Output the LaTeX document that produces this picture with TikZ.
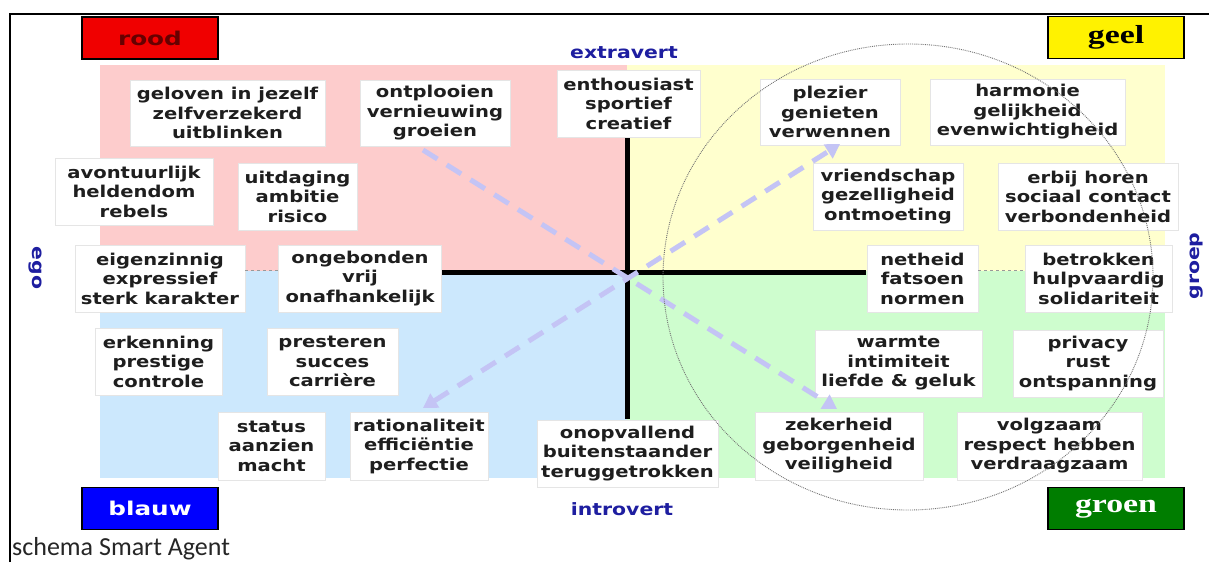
\documentclass[tikz,border=0pt]{standalone}
\usepackage{fontspec}
\usetikzlibrary{arrows.meta}
\newfontfamily\bxfont[FakeStretch=1.2]{DejaVu Sans}
\newfontfamily\lbfont[FakeStretch=1.3]{DejaVu Sans}
\newfontfamily\srfont[FakeStretch=1.3]{Liberation Serif}
\newfontfamily\captfont{Carlito}
\definecolor{qred}{RGB}{253,204,204}
\definecolor{qyel}{RGB}{255,255,206}
\definecolor{qblu}{RGB}{204,232,253}
\definecolor{qgrn}{RGB}{206,253,206}
\definecolor{lav}{RGB}{196,196,245}
\definecolor{axblue}{RGB}{30,30,160}
\definecolor{txt}{RGB}{30,30,30}
\definecolor{lred}{RGB}{240,0,0}
\definecolor{lgrn}{RGB}{0,125,0}
\tikzset{
  tb/.style={draw=black!10, fill=white, align=center, inner sep=0pt, text=txt,
    font=\bxfont\bfseries\fontsize{16.3}{19.5}\selectfont},
  lbl/.style={draw=black, line width=1.5pt, inner sep=0pt, minimum width=136pt, minimum height=42pt},
  axlbl/.style={text=axblue, font=\bxfont\bfseries\fontsize{17}{20}\selectfont, inner sep=0pt},
  dasharrow/.style={draw=lav, line width=5pt, dash pattern=on 17pt off 11pt,
    -{Triangle[length=14pt,width=16pt]}},
  axis/.style={line width=5pt, black},
  thin dash/.style={draw=black!40, dashed, line width=0.8pt}
}
\begin{document}
\begin{tikzpicture}[x=1pt,y=-1pt]
\useasboundingbox (0,0) rectangle (1209,562);
\clip (0,0) rectangle (1209,562);
\fill[white] (0,0) rectangle (1209,562);
% frame
\draw[line width=2pt] (10,562) -- (10,14) -- (1209,14);
% quadrants
\fill[qred] (100,65) rectangle (627,271);
\fill[qyel] (627,65) rectangle (1165,271);
\fill[qblu] (100,271) rectangle (627,478);
\fill[qgrn] (627,271) rectangle (1165,478);
% axes
\coordinate (vtop) at (627,138);
\coordinate (vbot) at (627,419);
\coordinate (hl) at (442,272);
\coordinate (hr) at (866,272);
\draw[axis] (vtop) -- (vbot);
\draw[axis] (hl) -- (hr);
% color labels
\node[lbl, fill=lred, text=black!60!red, font=\lbfont\bfseries\fontsize{19}{22}\selectfont] (rood) at (150,38) {rood};
\node[lbl, fill=yellow, text=black, font=\srfont\bfseries\fontsize{26}{28}\selectfont] (geel) at (1116,37.5) {geel};
\node[lbl, fill=blue, text=white, font=\lbfont\bfseries\fontsize{19}{22}\selectfont] (blauw) at (150,508.5) {blauw};
\node[lbl, fill=lgrn, text=white, font=\srfont\bfseries\fontsize{26}{28}\selectfont] (groen) at (1116,508.5) {groen};
% axis labels
\node[axlbl] (extra) at (624,53) {extravert};
\node[axlbl] (intro) at (622,509) {introvert};
\node[axlbl, rotate=-90] (ego) at (35,268) {ego};
\node[axlbl, rotate=90] (groep) at (1197,266) {groep};
% text boxes
\node[tb, minimum width=195pt, minimum height=66pt] (b1) at (227.5,113) {geloven in jezelf\\zelfverzekerd\\uitblinken};
\node[tb, minimum width=150pt, minimum height=66pt] (b2) at (435,113) {ontplooien\\vernieuwing\\groeien};
\node[tb, minimum width=143pt, minimum height=67pt] (b3) at (628.5,103.5) {enthousiast\\sportief\\creatief};
\node[tb, minimum width=140pt, minimum height=66pt] (b4) at (830,112) {plezier\\genieten\\verwennen};
\node[tb, minimum width=195pt, minimum height=66pt] (b5) at (1027.5,112) {harmonie\\gelijkheid\\evenwichtigheid};
\node[tb, minimum width=158pt, minimum height=67pt] (b6) at (134,191.5) {avontuurlijk\\heldendom\\rebels};
\node[tb, minimum width=119pt, minimum height=67pt] (b7) at (297.5,196.5) {uitdaging\\ambitie\\risico};
\node[tb, minimum width=150pt, minimum height=67pt] (b8) at (888,196.5) {vriendschap\\gezelligheid\\ontmoeting};
\node[tb, minimum width=180pt, minimum height=67pt] (b9) at (1088,196.5) {erbij horen\\sociaal contact\\verbondenheid};
\node[tb, minimum width=170pt, minimum height=67pt] (b10) at (160,278.5) {eigenzinnig\\expressief\\sterk karakter};
\node[tb, minimum width=163pt, minimum height=67pt] (b11) at (360,278.5) {ongebonden\\vrij\\onafhankelijk};
\node[tb, minimum width=111pt, minimum height=67pt] (b12) at (922.5,278.5) {netheid\\fatsoen\\normen};
\node[tb, minimum width=147pt, minimum height=67pt] (b13) at (1098.5,278.5) {betrokken\\hulpvaardig\\solidariteit};
\node[tb, minimum width=127pt, minimum height=67pt] (b14) at (158.5,361.5) {erkenning\\prestige\\controle};
\node[tb, minimum width=131pt, minimum height=67pt] (b15) at (332.5,361.5) {presteren\\succes\\carri\`ere};
\node[tb, minimum width=167pt, minimum height=67pt] (b16) at (898.5,363.5) {warmte\\intimiteit\\liefde \& geluk};
\node[tb, minimum width=150pt, minimum height=67pt] (b17) at (1088,363.5) {privacy\\rust\\ontspanning};
\node[tb, minimum width=107pt, minimum height=68pt] (b18) at (271.5,446) {status\\aanzien\\macht};
\node[tb, minimum width=138pt, minimum height=68pt] (b19) at (419,446) {rationaliteit\\effici\"entie\\perfectie};
\node[tb, minimum width=181pt, minimum height=67pt] (b20) at (627.5,453.5) {onopvallend\\buitenstaander\\teruggetrokken};
\node[tb, minimum width=168pt, minimum height=68pt] (b21) at (839,446) {zekerheid\\geborgenheid\\veiligheid};
\node[tb, minimum width=185pt, minimum height=68pt] (b22) at (1049.5,446) {volgzaam\\respect hebben\\verdraagzaam};
% small dashed axis pieces
\draw[thin dash] (b10.east |- 0,270) -- (b11.west |- 0,270);
\draw[thin dash] (b12.east |- 0,270) -- (b13.west |- 0,270);
% dashed arrows
\coordinate (a1) at (423,150);
\coordinate (a2) at (837,409);
\coordinate (a3) at (423,408);
\coordinate (a4) at (840,144);
\draw[dasharrow] (a1) -- (a2);
\draw[dasharrow, {Triangle[length=14pt,width=16pt]}-{Triangle[length=14pt,width=16pt]}] (a3) -- (a4);
% circle
\draw[black!55, densely dotted, line width=0.9pt] (908,277) ellipse [x radius=245, y radius=233];
% caption
\node[anchor=base west, inner sep=0pt, font=\captfont\fontsize{26}{30}\selectfont, text=black!85] (cap) at (12,555) {schema Smart Agent};
\end{tikzpicture}
\end{document}
